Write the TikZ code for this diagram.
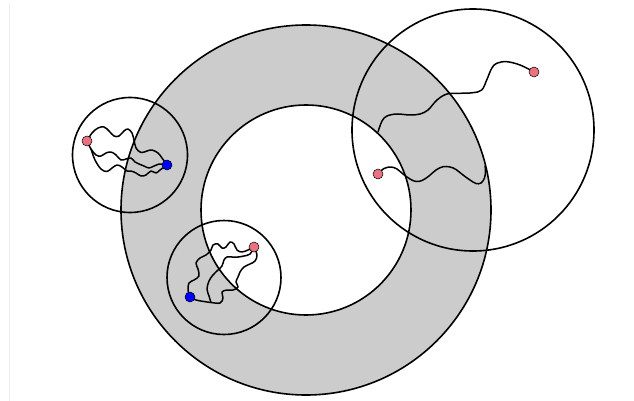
\documentclass[tikz,border=0pt]{standalone}
\definecolor{ringgray}{HTML}{CCCCCC}
\definecolor{dotpink}{HTML}{E8737F}
\definecolor{faint}{HTML}{EEEEEE}
\begin{document}
\begin{tikzpicture}[x=1pt,y=-1pt,
  ring/.style={draw=black,line width=1.6pt},
  wig/.style={draw=black,line width=1.5pt,line join=round,line cap=round},
  pdot/.style={circle,draw=black,line width=0.5pt,fill=dotpink,inner sep=0pt,minimum size=10pt},
  bdot/.style={pdot,fill=blue}]
\useasboundingbox (0,0) rectangle (634,401);
\draw[faint,line width=1pt] (9.5,3) -- (9.5,401);
% circles
\coordinate (C) at (306,210);
\coordinate (CR) at (473,130);
\coordinate (CL) at (130,155);
\coordinate (CB) at (224,277.5);
\fill[ringgray,even odd rule] (C) circle[radius=185pt] (C) circle[radius=105pt];
\draw[ring] (C) circle[radius=185pt];
\draw[ring] (C) circle[radius=105pt];
\draw[ring] (CR) circle[radius=121pt];
\draw[ring] (CL) circle[radius=57.5pt];
\draw[ring] (CB) circle[radius=57pt];
% end points
\coordinate (lp) at (87,141);
\coordinate (lb) at (167,165);
\coordinate (bp) at (254,247);
\coordinate (bb) at (190,297);
\coordinate (rp1) at (378,174);
\coordinate (re1) at (485,166);
\coordinate (rs2) at (378,132);
\coordinate (rp2) at (534,72);
\coordinate (lsplit) at (91,149);
\coordinate (bsplit) at (211,302.5);
% left circle walks
\draw[wig] plot[smooth,tension=0.6] coordinates {(lp) (92,133) (98,128) (104,127) (109,131) (114,136) (119,136) (124,131) (128,129) (132,133) (134,140) (136,148) (141,152.5) (147,151) (152,150) (158,153) (162,158) (lb)};
\draw[wig] plot[smooth,tension=0.6] coordinates {(lp) (lsplit) (96,155) (101,156) (106,153) (111,152) (116,155) (121,160) (126,159) (131,158) (135,162) (139,164) (144,166) (149,168) (154,166) (159,164) (lb)};
\draw[wig] plot[smooth,tension=0.6] coordinates {(lsplit) (95,160) (101,169) (107,171.5) (112,168) (117,165) (122,167) (127,171) (131,171) (136,173) (141,176) (146,175) (151,171) (156,173) (160,170) (lb)};
% bottom circle walks
\draw[wig] plot[smooth,tension=0.6] coordinates {(bb) (188,290) (189,283) (194,280) (199,276) (198,269) (196,263) (200,258) (206,255) (211,250) (213,245) (218,244) (222,248) (226,247) (230,242) (234,244) (237,250) (242,252) (248,250) (bp)};
\draw[wig] plot[smooth,tension=0.6] coordinates {(bb) (196,300) (204,301.5) (bsplit) (220,303) (223,298) (222,292) (227,290) (233,290) (238,287) (236,282) (238,277) (240,272) (244,267) (250,264) (255,261) (257,255) (bp)};
\draw[wig] plot[smooth,tension=0.6] coordinates {(bsplit) (209,296) (207,289) (209,281) (213,275) (218,270) (222,266) (224,260) (227,257) (232,257) (238,257) (244,256) (250,254) (bp)};
% right circle walks
\draw[wig] plot[smooth,tension=0.6] coordinates {(rp1) (384,168.5) (391,167) (397,169) (403,174) (410,179) (416,181.5) (422,180.5) (429,176) (436,170) (443,166.7) (450,167) (456,169.5) (463,175) (470,180) (476,183.5) (481,183) (484.5,178) (485.5,171) (re1)};
\draw[wig] plot[smooth,tension=0.6] coordinates {(rs2) (382,121) (387,116) (397,114) (410,115) (420,114) (428,110) (437,100) (447,94) (460,93.3) (473,92.7) (481.7,90) (486.7,80) (491.7,68.3) (496.7,63.3) (506.7,61.7) (520,65) (rp2)};
% dots
\node[pdot] (lpd) at (lp) {};
\node[bdot] (lbd) at (lb) {};
\node[pdot] (bpd) at (bp) {};
\node[bdot] (bbd) at (bb) {};
\node[pdot] (rp1d) at (rp1) {};
\node[pdot] (rp2d) at (rp2) {};
\end{tikzpicture}
\end{document}
